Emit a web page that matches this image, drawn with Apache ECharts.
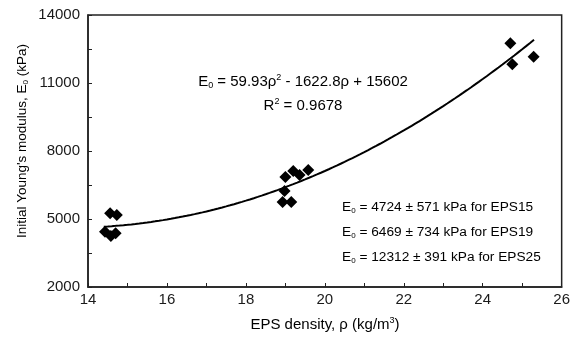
<!DOCTYPE html>
<html>
<head>
<meta charset="utf-8">
<script src="https://cdn.jsdelivr.net/npm/echarts@6/dist/echarts.min.js"></script>
<style>
  html, body { margin: 0; padding: 0; background: #fff; }
  #chart { width: 573px; height: 343px; }
</style>
</head>
<body>
<div id="chart"></div>
<script>
// measured points, EPS density (kg/m3) vs initial Young's modulus (kPa)
const eps15Density = [14.56, 14.73, 14.43, 14.58, 14.70];
const eps15Modulus = [5250, 5180, 4440, 4250, 4370];
const eps19Density = [18.93, 19.15, 18.98, 19.00, 19.20, 19.36, 19.58];
const eps19Modulus = [5750, 5750, 6240, 6850, 7120, 6940, 7160];
const eps25Density = [24.70, 25.29, 24.75];
const eps25Modulus = [12750, 12160, 11830];

// quadratic fit printed on the chart: a*rho^2 + b*rho + c
const fitCoefficients = [59.93, -1622.8, 15602];
const fitRange = [14.4, 25.3];

const xTicks = [14, 26, 2];
const yTicks = [2000, 14000, 3000];

const font = "'Liberation Sans', Arial, sans-serif";
const ink = "#1a1a1a";

function pairs(xs, ys) {
  return xs.map((x, i) => [x, ys[i]]);
}

const fitLine = [];
for (let r = fitRange[0]; r <= fitRange[1] + 1e-9; r += 0.1) {
  const [a, b, c] = fitCoefficients;
  fitLine.push([r, a * r * r + b * r + c]);
}

function richStyles(size) {
  const small = Math.round(size * 0.62);
  const lh = size + 2;
  return {
    t: { fontSize: size, fontFamily: font, color: ink, lineHeight: lh },
    sub: { fontSize: small, fontFamily: font, color: ink, lineHeight: small + 1, verticalAlign: "bottom" },
    sup: { fontSize: small, fontFamily: font, color: ink, lineHeight: small + 1, verticalAlign: "top" },
  };
}

const statLines = [
  "4724 ± 571 kPa for EPS15",
  "6469 ± 734 kPa for EPS19",
  "12312 ± 391 kPa for EPS25",
];

const chart = echarts.init(document.getElementById("chart"), null, { renderer: "canvas" });

const marker = {
  type: "scatter",
  symbol: "diamond",
  symbolSize: 12,
  itemStyle: { color: "#000", opacity: 1 },
  z: 3,
};

chart.setOption({
  animation: false,
  grid: {
    left: 88, right: 10, top: 15, bottom: 56,
    show: true, borderColor: "#222", borderWidth: 1.5,
  },
  xAxis: {
    type: "value",
    min: xTicks[0], max: xTicks[1], interval: xTicks[2],
    axisLine: { show: true, onZero: false, lineStyle: { color: "#222", width: 1.5 } },
    axisTick: { show: true, inside: true, length: 4, lineStyle: { color: "#222" } },
    minorTick: { show: true, splitNumber: 2, length: 4, lineStyle: { color: "#222" } },
    splitLine: { show: false },
    axisLabel: { fontSize: 15, fontFamily: font, color: ink, margin: 5 },
  },
  yAxis: {
    type: "value",
    min: yTicks[0], max: yTicks[1], interval: yTicks[2],
    axisLine: { show: true, onZero: false, lineStyle: { color: "#222", width: 1.5 } },
    axisTick: { show: true, inside: true, length: 4, lineStyle: { color: "#222" } },
    minorTick: { show: true, splitNumber: 2, length: 4, lineStyle: { color: "#222" } },
    splitLine: { show: false },
    axisLabel: { fontSize: 15, fontFamily: font, color: ink, margin: 8, formatter: (v) => String(v) },
  },
  graphic: [
    {
      type: "text", x: 22, y: 141, rotation: Math.PI / 2,
      style: {
        text: "{t|Initial Young's modulus, E}{sub|0}{t| (kPa)}",
        rich: richStyles(13.5), align: "center", verticalAlign: "middle",
      },
    },
    {
      type: "text", x: 325, y: 325,
      style: {
        text: "{t|EPS density, ρ (kg/m}{sup|3}{t|)}",
        rich: richStyles(15), align: "center", verticalAlign: "middle",
      },
    },
    {
      type: "text", x: 303, y: 82,
      style: {
        text: "{t|E}{sub|0}{t| = 59.93ρ}{sup|2}{t| - 1622.8ρ + 15602}",
        rich: richStyles(15), align: "center", verticalAlign: "middle",
      },
    },
    {
      type: "text", x: 303, y: 106,
      style: {
        text: "{t|R}{sup|2}{t| = 0.9678}",
        rich: richStyles(15), align: "center", verticalAlign: "middle",
      },
    },
    ...statLines.map((line, i) => ({
      type: "text", x: 342, y: 207 + i * 25,
      style: {
        text: "{t|E}{sub|0}{t| = " + line + "}",
        rich: richStyles(13.7), align: "left", verticalAlign: "middle",
      },
    })),
  ],
  series: [
    {
      type: "line",
      data: fitLine,
      showSymbol: false,
      lineStyle: { color: "#000", width: 2 },
      z: 2,
    },
    { ...marker, data: pairs(eps15Density, eps15Modulus) },
    { ...marker, data: pairs(eps19Density, eps19Modulus) },
    { ...marker, data: pairs(eps25Density, eps25Modulus) },
  ],
});
</script>
</body>
</html>
